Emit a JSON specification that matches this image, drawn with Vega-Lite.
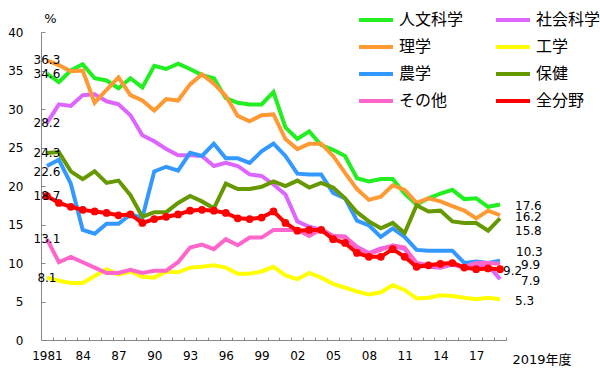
{
"$schema": "https://vega.github.io/schema/vega-lite/v6.json",
"width": 465, "height": 308,
"autosize": "none",
"padding": {"left": 41, "top": 32, "right": 94, "bottom": 32},
"background": "white",
"config": {"view": {"stroke": null}, "font": "DejaVu Sans", "axis": {"labelOverlap": false, "labelFlush": false}},
"data": {"values": [
{"year":1981,"field":"人文科学","rate":34.6},{"year":1982,"field":"人文科学","rate":33.5},{"year":1983,"field":"人文科学","rate":35.0},{"year":1984,"field":"人文科学","rate":35.8},{"year":1985,"field":"人文科学","rate":34.0},{"year":1986,"field":"人文科学","rate":33.7},{"year":1987,"field":"人文科学","rate":32.7},{"year":1988,"field":"人文科学","rate":34.0},{"year":1989,"field":"人文科学","rate":32.8},{"year":1990,"field":"人文科学","rate":35.6},{"year":1991,"field":"人文科学","rate":35.2},{"year":1992,"field":"人文科学","rate":35.9},{"year":1993,"field":"人文科学","rate":35.2},{"year":1994,"field":"人文科学","rate":34.4},{"year":1995,"field":"人文科学","rate":34.0},{"year":1996,"field":"人文科学","rate":31.4},{"year":1997,"field":"人文科学","rate":30.8},{"year":1998,"field":"人文科学","rate":30.6},{"year":1999,"field":"人文科学","rate":30.6},{"year":2000,"field":"人文科学","rate":32.2},{"year":2001,"field":"人文科学","rate":27.6},{"year":2002,"field":"人文科学","rate":26.1},{"year":2003,"field":"人文科学","rate":27.1},{"year":2004,"field":"人文科学","rate":25.3},{"year":2005,"field":"人文科学","rate":24.7},{"year":2006,"field":"人文科学","rate":23.9},{"year":2007,"field":"人文科学","rate":21.0},{"year":2008,"field":"人文科学","rate":20.6},{"year":2009,"field":"人文科学","rate":20.9},{"year":2010,"field":"人文科学","rate":20.9},{"year":2011,"field":"人文科学","rate":19.0},{"year":2012,"field":"人文科学","rate":17.6},{"year":2013,"field":"人文科学","rate":18.4},{"year":2014,"field":"人文科学","rate":19.0},{"year":2015,"field":"人文科学","rate":19.5},{"year":2016,"field":"人文科学","rate":18.3},{"year":2017,"field":"人文科学","rate":18.4},{"year":2018,"field":"人文科学","rate":17.3},{"year":2019,"field":"人文科学","rate":17.6},
{"year":1981,"field":"社会科学","rate":28.2},{"year":1982,"field":"社会科学","rate":30.6},{"year":1983,"field":"社会科学","rate":30.4},{"year":1984,"field":"社会科学","rate":31.8},{"year":1985,"field":"社会科学","rate":31.9},{"year":1986,"field":"社会科学","rate":31.0},{"year":1987,"field":"社会科学","rate":30.6},{"year":1988,"field":"社会科学","rate":29.2},{"year":1989,"field":"社会科学","rate":26.6},{"year":1990,"field":"社会科学","rate":25.8},{"year":1991,"field":"社会科学","rate":24.8},{"year":1992,"field":"社会科学","rate":24.0},{"year":1993,"field":"社会科学","rate":24.0},{"year":1994,"field":"社会科学","rate":23.9},{"year":1995,"field":"社会科学","rate":22.6},{"year":1996,"field":"社会科学","rate":23.0},{"year":1997,"field":"社会科学","rate":22.6},{"year":1998,"field":"社会科学","rate":21.5},{"year":1999,"field":"社会科学","rate":21.3},{"year":2000,"field":"社会科学","rate":20.2},{"year":2001,"field":"社会科学","rate":18.9},{"year":2002,"field":"社会科学","rate":15.4},{"year":2003,"field":"社会科学","rate":14.7},{"year":2004,"field":"社会科学","rate":14.3},{"year":2005,"field":"社会科学","rate":13.5},{"year":2006,"field":"社会科学","rate":13.4},{"year":2007,"field":"社会科学","rate":12.1},{"year":2008,"field":"社会科学","rate":11.3},{"year":2009,"field":"社会科学","rate":11.9},{"year":2010,"field":"社会科学","rate":12.2},{"year":2011,"field":"社会科学","rate":11.8},{"year":2012,"field":"社会科学","rate":9.8},{"year":2013,"field":"社会科学","rate":9.5},{"year":2014,"field":"社会科学","rate":9.4},{"year":2015,"field":"社会科学","rate":9.8},{"year":2016,"field":"社会科学","rate":9.4},{"year":2017,"field":"社会科学","rate":9.7},{"year":2018,"field":"社会科学","rate":9.7},{"year":2019,"field":"社会科学","rate":7.9},
{"year":1981,"field":"理学","rate":36.3},{"year":1982,"field":"理学","rate":35.7},{"year":1983,"field":"理学","rate":34.9},{"year":1984,"field":"理学","rate":35.0},{"year":1985,"field":"理学","rate":30.8},{"year":1986,"field":"理学","rate":32.5},{"year":1987,"field":"理学","rate":34.1},{"year":1988,"field":"理学","rate":31.8},{"year":1989,"field":"理学","rate":31.1},{"year":1990,"field":"理学","rate":29.8},{"year":1991,"field":"理学","rate":31.3},{"year":1992,"field":"理学","rate":31.1},{"year":1993,"field":"理学","rate":33.2},{"year":1994,"field":"理学","rate":34.5},{"year":1995,"field":"理学","rate":33.3},{"year":1996,"field":"理学","rate":31.7},{"year":1997,"field":"理学","rate":29.1},{"year":1998,"field":"理学","rate":28.4},{"year":1999,"field":"理学","rate":29.2},{"year":2000,"field":"理学","rate":29.3},{"year":2001,"field":"理学","rate":26.1},{"year":2002,"field":"理学","rate":24.8},{"year":2003,"field":"理学","rate":25.5},{"year":2004,"field":"理学","rate":25.5},{"year":2005,"field":"理学","rate":23.9},{"year":2006,"field":"理学","rate":21.7},{"year":2007,"field":"理学","rate":19.6},{"year":2008,"field":"理学","rate":18.2},{"year":2009,"field":"理学","rate":18.6},{"year":2010,"field":"理学","rate":20.1},{"year":2011,"field":"理学","rate":19.5},{"year":2012,"field":"理学","rate":17.8},{"year":2013,"field":"理学","rate":18.4},{"year":2014,"field":"理学","rate":18.0},{"year":2015,"field":"理学","rate":17.4},{"year":2016,"field":"理学","rate":16.8},{"year":2017,"field":"理学","rate":15.8},{"year":2018,"field":"理学","rate":16.8},{"year":2019,"field":"理学","rate":16.2},
{"year":1981,"field":"工学","rate":8.1},{"year":1982,"field":"工学","rate":7.7},{"year":1983,"field":"工学","rate":7.4},{"year":1984,"field":"工学","rate":7.4},{"year":1985,"field":"工学","rate":8.3},{"year":1986,"field":"工学","rate":9.2},{"year":1987,"field":"工学","rate":8.5},{"year":1988,"field":"工学","rate":8.9},{"year":1989,"field":"工学","rate":8.2},{"year":1990,"field":"工学","rate":8.1},{"year":1991,"field":"工学","rate":8.9},{"year":1992,"field":"工学","rate":8.8},{"year":1993,"field":"工学","rate":9.4},{"year":1994,"field":"工学","rate":9.5},{"year":1995,"field":"工学","rate":9.7},{"year":1996,"field":"工学","rate":9.4},{"year":1997,"field":"工学","rate":8.6},{"year":1998,"field":"工学","rate":8.6},{"year":1999,"field":"工学","rate":8.9},{"year":2000,"field":"工学","rate":9.5},{"year":2001,"field":"工学","rate":8.4},{"year":2002,"field":"工学","rate":7.9},{"year":2003,"field":"工学","rate":8.7},{"year":2004,"field":"工学","rate":8.1},{"year":2005,"field":"工学","rate":7.3},{"year":2006,"field":"工学","rate":6.8},{"year":2007,"field":"工学","rate":6.3},{"year":2008,"field":"工学","rate":5.9},{"year":2009,"field":"工学","rate":6.2},{"year":2010,"field":"工学","rate":7.1},{"year":2011,"field":"工学","rate":6.5},{"year":2012,"field":"工学","rate":5.4},{"year":2013,"field":"工学","rate":5.5},{"year":2014,"field":"工学","rate":5.8},{"year":2015,"field":"工学","rate":5.7},{"year":2016,"field":"工学","rate":5.5},{"year":2017,"field":"工学","rate":5.3},{"year":2018,"field":"工学","rate":5.5},{"year":2019,"field":"工学","rate":5.3},
{"year":1981,"field":"農学","rate":22.6},{"year":1982,"field":"農学","rate":23.4},{"year":1983,"field":"農学","rate":20.3},{"year":1984,"field":"農学","rate":14.3},{"year":1985,"field":"農学","rate":13.8},{"year":1986,"field":"農学","rate":15.1},{"year":1987,"field":"農学","rate":15.1},{"year":1988,"field":"農学","rate":16.3},{"year":1989,"field":"農学","rate":15.9},{"year":1990,"field":"農学","rate":21.9},{"year":1991,"field":"農学","rate":22.5},{"year":1992,"field":"農学","rate":22.0},{"year":1993,"field":"農学","rate":24.3},{"year":1994,"field":"農学","rate":23.9},{"year":1995,"field":"農学","rate":25.5},{"year":1996,"field":"農学","rate":23.6},{"year":1997,"field":"農学","rate":23.6},{"year":1998,"field":"農学","rate":23.0},{"year":1999,"field":"農学","rate":24.5},{"year":2000,"field":"農学","rate":25.5},{"year":2001,"field":"農学","rate":23.9},{"year":2002,"field":"農学","rate":21.6},{"year":2003,"field":"農学","rate":21.5},{"year":2004,"field":"農学","rate":21.5},{"year":2005,"field":"農学","rate":19.1},{"year":2006,"field":"農学","rate":18.4},{"year":2007,"field":"農学","rate":15.5},{"year":2008,"field":"農学","rate":14.9},{"year":2009,"field":"農学","rate":13.4},{"year":2010,"field":"農学","rate":14.5},{"year":2011,"field":"農学","rate":13.4},{"year":2012,"field":"農学","rate":11.7},{"year":2013,"field":"農学","rate":11.6},{"year":2014,"field":"農学","rate":11.6},{"year":2015,"field":"農学","rate":11.6},{"year":2016,"field":"農学","rate":10.0},{"year":2017,"field":"農学","rate":10.2},{"year":2018,"field":"農学","rate":10.0},{"year":2019,"field":"農学","rate":10.3},
{"year":1981,"field":"保健","rate":24.3},{"year":1982,"field":"保健","rate":24.4},{"year":1983,"field":"保健","rate":21.9},{"year":1984,"field":"保健","rate":20.9},{"year":1985,"field":"保健","rate":21.9},{"year":1986,"field":"保健","rate":20.4},{"year":1987,"field":"保健","rate":20.7},{"year":1988,"field":"保健","rate":18.8},{"year":1989,"field":"保健","rate":16.0},{"year":1990,"field":"保健","rate":16.6},{"year":1991,"field":"保健","rate":16.6},{"year":1992,"field":"保健","rate":17.8},{"year":1993,"field":"保健","rate":18.7},{"year":1994,"field":"保健","rate":18.0},{"year":1995,"field":"保健","rate":17.1},{"year":1996,"field":"保健","rate":20.3},{"year":1997,"field":"保健","rate":19.6},{"year":1998,"field":"保健","rate":19.6},{"year":1999,"field":"保健","rate":19.9},{"year":2000,"field":"保健","rate":20.6},{"year":2001,"field":"保健","rate":20.0},{"year":2002,"field":"保健","rate":20.7},{"year":2003,"field":"保健","rate":19.8},{"year":2004,"field":"保健","rate":20.4},{"year":2005,"field":"保健","rate":19.8},{"year":2006,"field":"保健","rate":18.4},{"year":2007,"field":"保健","rate":16.6},{"year":2008,"field":"保健","rate":15.4},{"year":2009,"field":"保健","rate":14.5},{"year":2010,"field":"保健","rate":15.2},{"year":2011,"field":"保健","rate":13.9},{"year":2012,"field":"保健","rate":17.5},{"year":2013,"field":"保健","rate":16.7},{"year":2014,"field":"保健","rate":16.8},{"year":2015,"field":"保健","rate":15.4},{"year":2016,"field":"保健","rate":15.2},{"year":2017,"field":"保健","rate":15.2},{"year":2018,"field":"保健","rate":14.2},{"year":2019,"field":"保健","rate":15.8},
{"year":1981,"field":"その他","rate":13.1},{"year":1982,"field":"その他","rate":10.1},{"year":1983,"field":"その他","rate":10.8},{"year":1984,"field":"その他","rate":10.1},{"year":1985,"field":"その他","rate":9.4},{"year":1986,"field":"その他","rate":8.7},{"year":1987,"field":"その他","rate":8.7},{"year":1988,"field":"その他","rate":9.1},{"year":1989,"field":"その他","rate":8.7},{"year":1990,"field":"その他","rate":9.0},{"year":1991,"field":"その他","rate":9.0},{"year":1992,"field":"その他","rate":10.1},{"year":1993,"field":"その他","rate":12.0},{"year":1994,"field":"その他","rate":12.4},{"year":1995,"field":"その他","rate":11.8},{"year":1996,"field":"その他","rate":13.1},{"year":1997,"field":"その他","rate":12.3},{"year":1998,"field":"その他","rate":13.3},{"year":1999,"field":"その他","rate":13.3},{"year":2000,"field":"その他","rate":14.3},{"year":2001,"field":"その他","rate":14.3},{"year":2002,"field":"その他","rate":14.3},{"year":2003,"field":"その他","rate":13.5},{"year":2004,"field":"その他","rate":14.4},{"year":2005,"field":"その他","rate":13.5},{"year":2006,"field":"その他","rate":13.4},{"year":2007,"field":"その他","rate":11.9},{"year":2008,"field":"その他","rate":11.2},{"year":2009,"field":"その他","rate":11.7},{"year":2010,"field":"その他","rate":12.3},{"year":2011,"field":"その他","rate":12.0},{"year":2012,"field":"その他","rate":10.0},{"year":2013,"field":"その他","rate":9.7},{"year":2014,"field":"その他","rate":9.5},{"year":2015,"field":"その他","rate":10.0},{"year":2016,"field":"その他","rate":9.5},{"year":2017,"field":"その他","rate":10.0},{"year":2018,"field":"その他","rate":10.0},{"year":2019,"field":"その他","rate":9.9},
{"year":1981,"field":"全分野","rate":18.7},{"year":1982,"field":"全分野","rate":17.8},{"year":1983,"field":"全分野","rate":17.3},{"year":1984,"field":"全分野","rate":16.9},{"year":1985,"field":"全分野","rate":16.7},{"year":1986,"field":"全分野","rate":16.5},{"year":1987,"field":"全分野","rate":16.2},{"year":1988,"field":"全分野","rate":16.3},{"year":1989,"field":"全分野","rate":15.2},{"year":1990,"field":"全分野","rate":15.7},{"year":1991,"field":"全分野","rate":16.0},{"year":1992,"field":"全分野","rate":16.3},{"year":1993,"field":"全分野","rate":16.8},{"year":1994,"field":"全分野","rate":16.9},{"year":1995,"field":"全分野","rate":16.8},{"year":1996,"field":"全分野","rate":16.5},{"year":1997,"field":"全分野","rate":15.8},{"year":1998,"field":"全分野","rate":15.7},{"year":1999,"field":"全分野","rate":15.9},{"year":2000,"field":"全分野","rate":16.7},{"year":2001,"field":"全分野","rate":15.2},{"year":2002,"field":"全分野","rate":14.2},{"year":2003,"field":"全分野","rate":14.3},{"year":2004,"field":"全分野","rate":14.3},{"year":2005,"field":"全分野","rate":13.1},{"year":2006,"field":"全分野","rate":12.6},{"year":2007,"field":"全分野","rate":11.3},{"year":2008,"field":"全分野","rate":10.8},{"year":2009,"field":"全分野","rate":10.8},{"year":2010,"field":"全分野","rate":11.8},{"year":2011,"field":"全分野","rate":10.8},{"year":2012,"field":"全分野","rate":9.5},{"year":2013,"field":"全分野","rate":9.7},{"year":2014,"field":"全分野","rate":9.9},{"year":2015,"field":"全分野","rate":10.0},{"year":2016,"field":"全分野","rate":9.4},{"year":2017,"field":"全分野","rate":9.2},{"year":2018,"field":"全分野","rate":9.3},{"year":2019,"field":"全分野","rate":9.2}
]},
"resolve": {"axis": {"x": "independent", "y": "independent"}},
"layer": [
{"mark": {"type": "line", "strokeWidth": 4},
 "encoding": {
  "x": {"field": "year", "type": "quantitative",
   "scale": {"domain": [1980.5, 2019.5], "nice": false, "zero": false},
   "axis": {
    "orient": "bottom",
    "values": [1981,1984,1987,1990,1993,1996,1999,2002,2005,2008,2011,2014,2017],
    "format": "d",
    "labelExpr": "datum.value == 1981 ? '1981' : substring(datum.label, 2)",
    "labelOverlap": false, "labelFlush": false,
    "labelFont": "DejaVu Sans", "labelFontSize": 12, "labelColor": "#000000",
    "labelPadding": 10, "ticks": false,
    "domainColor": "#888888", "grid": false,
    "title": "2019年度", "titleX": 471, "titleY": 19, "titleAlign": "left", "titleBaseline": "middle",
    "titleFont": "DejaVu Sans, Noto Sans CJK JP", "titleFontSize": 13, "titleFontWeight": "normal", "titleColor": "#000000"
   }},
  "y": {"field": "rate", "type": "quantitative",
   "scale": {"domain": [0, 40], "nice": false},
   "axis": {
    "orient": "left",
    "values": [0,5,10,15,20,25,30,35,40],
    "labelOverlap": false,
    "labelFont": "DejaVu Sans", "labelFontSize": 12, "labelColor": "#000000",
    "labelPadding": 18, "ticks": false,
    "domainColor": "#888888", "grid": false,
    "title": "%", "titleAngle": 0, "titleX": 9, "titleY": -14, "titleAlign": "center", "titleBaseline": "middle",
    "titleFont": "DejaVu Sans", "titleFontSize": 13, "titleFontWeight": "normal", "titleColor": "#000000"
   }},
  "color": {"field": "field", "type": "nominal",
   "scale": {"domain": ["人文科学","理学","農学","その他","社会科学","工学","保健","全分野"],
             "range": ["#22ee22","#ff9933","#3399ff","#ff66cc","#dd66ff","#ffff00","#669900","#ff0000"]},
   "legend": {"orient": "none", "legendX": 316, "legendY": -31, "columns": 2, "title": null,
    "symbolType": "stroke", "symbolStrokeWidth": 4, "symbolSize": 1156,
    "labelFont": "Noto Sans CJK JP", "labelFontSize": 16, "labelColor": "#000000", "labelOffset": 4,
    "columnPadding": 24, "rowPadding": -3.5}}
 }},
{"transform": [{"filter": "datum.field == '全分野'"}],
 "mark": {"type": "point", "filled": true, "size": 60, "color": "#ff0000", "opacity": 1},
 "encoding": {
  "x": {"field": "year", "type": "quantitative",
   "axis": {"orient": "bottom", "offset": -3, "values": [1980.5,1981.5,1982.5,1983.5,1984.5,1985.5,1986.5,1987.5,1988.5,1989.5,1990.5,1991.5,1992.5,1993.5,1994.5,1995.5,1996.5,1997.5,1998.5,1999.5,2000.5,2001.5,2002.5,2003.5,2004.5,2005.5,2006.5,2007.5,2008.5,2009.5,2010.5,2011.5,2012.5,2013.5,2014.5,2015.5,2016.5,2017.5,2018.5,2019.5],
    "labels": false, "domain": false, "grid": false, "title": null, "ticks": true, "tickSize": 3, "tickColor": "#888888"}},
  "y": {"field": "rate", "type": "quantitative",
   "axis": {"orient": "left", "offset": -4, "values": [5,10,15,20,25,30,35,40],
    "labels": false, "domain": false, "grid": false, "title": null, "ticks": true, "tickSize": 4, "tickColor": "#888888"}}}},
{"transform": [{"filter": "datum.year == 1981 && datum.field != '農学'"}],
 "mark": {"type": "text", "align": "center", "baseline": "middle", "font": "DejaVu Sans", "fontSize": 12, "color": "#000000"},
 "encoding": {"x": {"field": "year", "type": "quantitative", "axis": null}, "y": {"field": "rate", "type": "quantitative", "axis": null},
  "text": {"field": "rate", "type": "quantitative", "format": ".1f"}}},
{"transform": [{"filter": "datum.year == 1981 && datum.field == '農学'"}],
 "mark": {"type": "text", "align": "center", "baseline": "middle", "dy": 6, "font": "DejaVu Sans", "fontSize": 12, "color": "#000000"},
 "encoding": {"x": {"field": "year", "type": "quantitative", "axis": null}, "y": {"field": "rate", "type": "quantitative", "axis": null},
  "text": {"field": "rate", "type": "quantitative", "format": ".1f"}}},
{"transform": [{"filter": "datum.year == 2019 && (datum.field == '人文科学' || datum.field == '理学' || datum.field == '工学')"}],
 "mark": {"type": "text", "align": "left", "baseline": "middle", "dx": 15, "dy": 2, "font": "DejaVu Sans", "fontSize": 12, "color": "#000000"},
 "encoding": {"x": {"field": "year", "type": "quantitative", "axis": null}, "y": {"field": "rate", "type": "quantitative", "axis": null},
  "text": {"field": "rate", "type": "quantitative", "format": ".1f"}}},
{"transform": [{"filter": "datum.year == 2019 && datum.field == '保健'"}],
 "mark": {"type": "text", "align": "left", "baseline": "middle", "dx": 15, "dy": 13, "font": "DejaVu Sans", "fontSize": 12, "color": "#000000"},
 "encoding": {"x": {"field": "year", "type": "quantitative", "axis": null}, "y": {"field": "rate", "type": "quantitative", "axis": null},
  "text": {"field": "rate", "type": "quantitative", "format": ".1f"}}},
{"transform": [{"filter": "datum.year == 2019 && datum.field == '農学'"}],
 "mark": {"type": "text", "align": "left", "baseline": "middle", "dx": 16, "dy": -9, "font": "DejaVu Sans", "fontSize": 12, "color": "#000000"},
 "encoding": {"x": {"field": "year", "type": "quantitative", "axis": null}, "y": {"field": "rate", "type": "quantitative", "axis": null},
  "text": {"field": "rate", "type": "quantitative", "format": ".1f"}}},
{"transform": [{"filter": "datum.year == 2019 && (datum.field == 'その他' || datum.field == '社会科学')"}],
 "mark": {"type": "text", "align": "left", "baseline": "middle", "dx": 21, "dy": 1.5, "font": "DejaVu Sans", "fontSize": 12, "color": "#000000"},
 "encoding": {"x": {"field": "year", "type": "quantitative", "axis": null}, "y": {"field": "rate", "type": "quantitative", "axis": null},
  "text": {"field": "rate", "type": "quantitative", "format": ".1f"}}},
{"transform": [{"filter": "datum.year == 2019 && datum.field == '全分野'"}],
 "mark": {"type": "text", "align": "left", "baseline": "middle", "dx": 3, "dy": 1.5, "font": "DejaVu Sans", "fontSize": 12, "color": "#000000"},
 "encoding": {"x": {"field": "year", "type": "quantitative", "axis": null}, "y": {"field": "rate", "type": "quantitative", "axis": null},
  "text": {"field": "rate", "type": "quantitative", "format": ".1f"}}}
]
}
